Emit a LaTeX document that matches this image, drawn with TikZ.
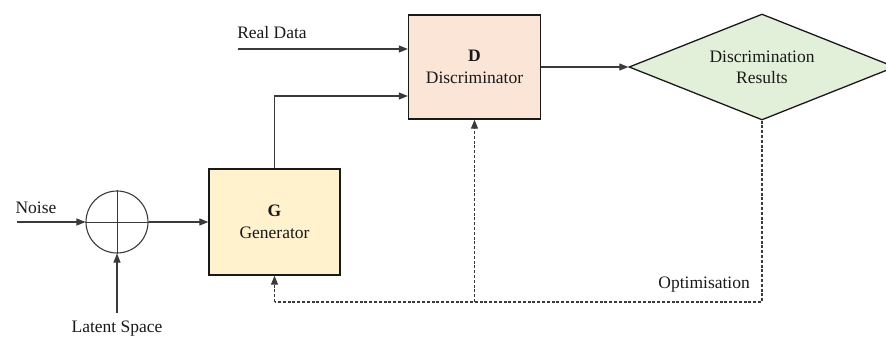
\documentclass[tikz,border=0pt]{standalone}
\usepackage{fontspec}
\setmainfont{Liberation Serif}
\newfontfamily\tnr{Liberation Serif}
\usetikzlibrary{shapes.geometric,arrows.meta,calc}
\definecolor{gfill}{HTML}{FFF2CC}
\definecolor{dfill}{HTML}{FBE5D6}
\definecolor{rfill}{HTML}{E2F0D9}
\definecolor{linec}{HTML}{3A3A3A}
\tikzset{
  lbl/.style={font=\tnr\fontsize{17.5}{21}\selectfont, inner sep=0pt, text=black!90},
  blockbox/.style={draw=black!90, line width=1.3pt, rectangle, inner sep=0pt, align=center,
     font=\tnr\fontsize{17.5}{22}\selectfont, text=black!90},
  arr/.style={draw=linec, line width=1.1pt, -{Triangle[length=9pt,width=7pt]}},
  dsh/.style={draw=linec, line width=1.1pt, dash pattern=on 3pt off 1.8pt},
}
\begin{document}
\begin{tikzpicture}[x=1pt,y=-1pt]
\useasboundingbox (0,0) rectangle (886,338);
% sum junction
\node[circle, draw=linec, line width=1.1pt, minimum size=62pt, inner sep=0pt] (sum) at (117,222) {};
\draw[linec, line width=0.9pt] (sum.north) -- (sum.south) (sum.west) -- (sum.east);
% blocks
\node[blockbox, fill=gfill, minimum width=131pt, minimum height=106pt] (G) at (274.5,222)
  {\textbf{G}\\Generator};
\node[blockbox, fill=dfill, minimum width=132pt, minimum height=104pt] (D) at (474.5,67)
  {\textbf{D}\\Discriminator};
\node[diamond, draw=black!90, line width=1.3pt, fill=rfill, aspect=2.5, inner sep=0pt,
  minimum width=266pt, minimum height=106pt, align=center,
  font=\tnr\fontsize{17.5}{21}\selectfont, text=black!90] (R) at (762,67)
  {Discrimination\\Results};
% labels
\node[lbl] (noise) at (36,208) {Noise};
\node[lbl] (latent) at (117,329) {Latent Space};
\node[lbl] (real) at (272,33) {Real Data};
\node[lbl, anchor=east] (opt) at (750,285) {Optimisation};
% connectors
\coordinate (nz) at (17,222);
\coordinate (ls) at (117,313);
\coordinate (rd) at (238,49);
\coordinate (fb) at (274.5,302);
\draw[arr] (nz) -- (sum.west);
\draw[arr] (ls) -- (sum.south);
\draw[arr] (sum.east) -- (G.west);
\draw[arr] (G.north) |- ([yshift=-29pt]D.west);
\draw[arr] (rd) -- (rd -| D.west);
\draw[arr] (D.east) -- (R.west);
\draw[dsh] (R.south) |- (fb);
\draw[dsh, arr, dash pattern=on 3pt off 1.8pt] (fb) -- (G.south);
\draw[dsh, arr, dash pattern=on 3pt off 1.8pt] (D.south |- fb) -- (D.south);
\end{tikzpicture}
\end{document}
